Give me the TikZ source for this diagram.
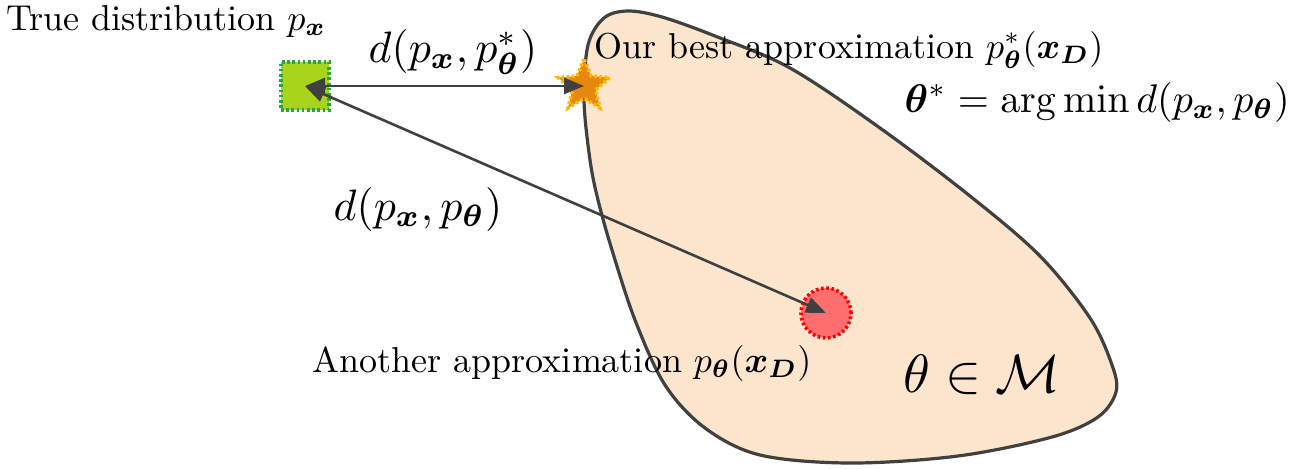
\documentclass[tikz,border=0pt]{standalone}
\usepackage{amsmath,amssymb,bm,graphicx}
\usetikzlibrary{shapes.geometric,arrows.meta}
\definecolor{blobfill}{HTML}{FBE5CD}
\definecolor{edgegray}{HTML}{404040}
\definecolor{limefill}{HTML}{A8D41C}
\definecolor{limeedge}{HTML}{22A83C}
\definecolor{starfill}{HTML}{E6870F}
\definecolor{staredge}{HTML}{FFB800}
\definecolor{redfill}{HTML}{FF6E6E}
\definecolor{rededge}{HTML}{FF0000}
\newcommand{\txtS}[1]{\scalebox{1.8}{\fontsize{10}{12}\selectfont #1}}
\newcommand{\mathS}[1]{\scalebox{2.2}{\fontsize{10}{12}\selectfont #1}}
\newcommand{\mathT}[1]{\scalebox{2.0}{\fontsize{10}{12}\selectfont #1}}
\newcommand{\bigS}[1]{\scalebox{2.7}{\fontsize{10}{12}\selectfont #1}}
\tikzset{
  txt/.style={inner sep=0pt, anchor=base},
  dots/.style={line width=1.8pt, dash pattern=on 1.3pt off 1.3pt},
  arr/.style={draw=edgegray, line width=1.3pt, {Triangle[length=10pt,width=8pt]}-{Triangle[length=10pt,width=8pt]}},
}
\begin{document}
\begin{tikzpicture}[x=0.5pt,y=-0.5pt]
\useasboundingbox (0,0) rectangle (1296,468);
% manifold blob
\draw[fill=blobfill, draw=edgegray, line width=1.6pt]
  plot[smooth cycle, tension=0.55] coordinates {
   (590,160) (584,100) (588,45) (604,18) (628,11) (662,17) (715,36)
   (790,68) (880,128) (970,196) (1040,256) (1090,318)
   (1112,365) (1116,392) (1098,417) (1052,437) (958,456) (850,463)
   (760,455) (705,428) (665,385) (635,320) (612,250) (598,200)};
% points
\node[draw=limeedge, fill=limefill, dots, minimum size=24pt, inner sep=0pt] (sq) at (305,86) {};
\node[star, star points=5, star point ratio=2.2, draw=staredge, fill=starfill, dots, minimum size=27pt, inner sep=0pt] (st) at (584,86) {};
\node[circle, draw=rededge, fill=redfill, dots, minimum size=25pt, inner sep=0pt] (rc) at (826,313) {};
% connectors
\draw[arr] (sq.center) -- (st.center);
\draw[arr] (sq.center) -- (rc.center);
% labels
\node[txt] (tl) at (166,30) {\txtS{True distribution $p_{\bm{x}}$}};
\node[txt] (bl) at (849,58) {\txtS{Our best approximation $p^{*}_{\bm{\theta}}(\bm{x}_{\bm{D}})$}};
\node[txt] (al) at (562,372) {\txtS{Another approximation $p_{\bm{\theta}}(\bm{x}_{\bm{D}})$}};
\node[txt] (d1) at (453,62) {\mathS{$d(p_{\bm{x}},p^{*}_{\bm{\theta}})$}};
\node[txt] (d2) at (418,220) {\mathS{$d(p_{\bm{x}},p_{\bm{\theta}})$}};
\node[txt, anchor=base east] (am) at (1290,112) {\mathT{$\bm{\theta}^{*}=\arg\min d(p_{\bm{x}},p_{\bm{\theta}})$}};
\node[txt] (tm) at (982,392) {\bigS{$\theta\in\mathcal{M}$}};
\end{tikzpicture}
\end{document}
